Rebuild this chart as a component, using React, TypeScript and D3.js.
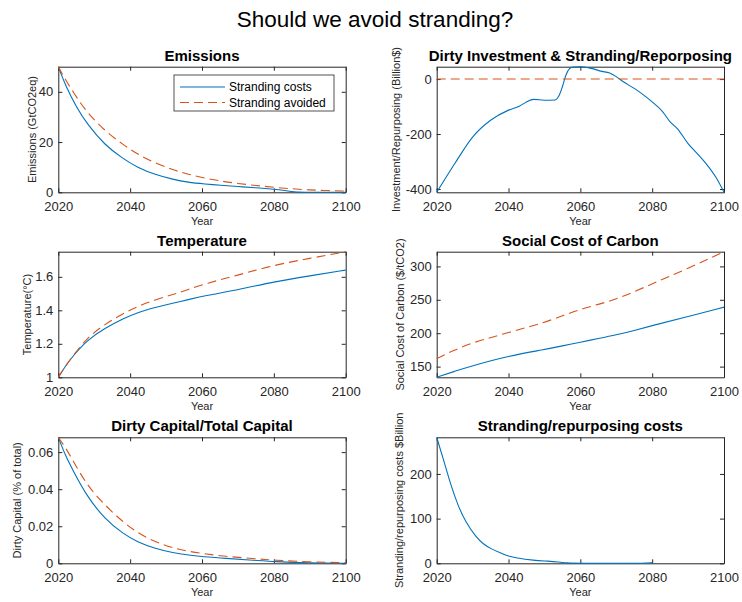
import React, { useEffect, useRef } from "react";
import * as d3 from "d3";

const BLUE = "#0072BD";
const RED = "#D95319";
const AXIS = "#262626";

const yearTicks = [2020, 2040, 2060, 2080, 2100];

// Emissions (GtCO2eq)
const emisCostYears = [2020, 2022, 2025, 2028, 2033, 2038, 2042, 2047, 2052, 2056, 2061, 2065, 2070, 2075, 2080, 2084, 2087, 2090, 2100];
const emisCosts = [50, 42.5, 34, 27.2, 18.7, 13.4, 9.9, 7.0, 5.1, 4.0, 3.3, 2.8, 2.3, 1.8, 1.2, 0.5, 0, 0, 0];
const emisAvoidedYears = [2020, 2022, 2025, 2028, 2033, 2038, 2042, 2047, 2052, 2056, 2061, 2065, 2070, 2075, 2080, 2085, 2090, 2095, 2100];
const emisAvoided = [50, 44.8, 38, 31.8, 24.4, 19.0, 15.2, 11.6, 8.9, 7.2, 5.6, 4.5, 3.5, 2.7, 2.0, 1.4, 0.9, 0.7, 0.5];

// Dirty investment & stranding/repurposing (Billion $)
const invYears = [2020, 2025, 2030, 2035, 2040, 2043, 2045, 2047, 2050, 2053, 2054, 2055, 2056, 2057, 2058, 2060, 2063, 2066, 2068, 2070, 2072, 2075, 2077, 2080, 2083, 2085, 2087, 2090, 2093, 2095, 2098, 2100];
const invCosts = [-412, -308, -211, -150, -113, -99, -83, -74, -77, -76, -62, -28, 15, 38, 44, 45, 39, 28, 23, 9, -10, -34, -52, -83, -120, -156, -180, -235, -278, -308, -363, -412];
const invAvoidedYears = [2020, 2100];
const invAvoided = [0, 0];

// Temperature (°C)
const tempYears = [2020, 2022, 2024, 2028, 2033, 2038, 2042, 2047, 2052, 2056, 2061, 2070, 2080, 2090, 2100];
const tempCosts = [1.0, 1.068, 1.125, 1.222, 1.294, 1.35, 1.387, 1.417, 1.443, 1.463, 1.489, 1.521, 1.571, 1.606, 1.64];
const tempAvoided = [1.0, 1.068, 1.126, 1.236, 1.318, 1.38, 1.423, 1.463, 1.495, 1.523, 1.56, 1.61, 1.67, 1.71, 1.75];

// Social cost of carbon ($/tCO2)
const sccYears = [2020, 2025, 2030, 2040, 2050, 2055, 2060, 2065, 2070, 2075, 2080, 2090, 2100];
const sccCosts = [134, 143, 151.5, 166, 175.5, 181, 186.5, 192, 197.5, 204, 211.5, 225, 239];
const sccAvoided = [162, 175, 186, 201, 216, 226, 236, 243, 251, 262, 274, 297, 322];

// Dirty capital / total capital
const capYears = [2020, 2022, 2024, 2028, 2033, 2038, 2042, 2047, 2052, 2056, 2065, 2075, 2080, 2090, 2100];
const capCosts = [0.068, 0.058, 0.0505, 0.036, 0.0238, 0.016, 0.0115, 0.0079, 0.0057, 0.0044, 0.0028, 0.0016, 0.0009, 0.0002, 0];
const capAvoided = [0.068, 0.0625, 0.0557, 0.042, 0.0313, 0.0223, 0.0165, 0.0115, 0.0083, 0.0064, 0.0039, 0.0025, 0.0016, 0.0008, 0.0003];

// Stranding/repurposing costs ($Billion)
const strandYears = [2020, 2022, 2024, 2026, 2028, 2031, 2033, 2035, 2038, 2040, 2042, 2047, 2051, 2054, 2056, 2060, 2070, 2078, 2080];
const strandCosts = [282, 229, 173, 128, 93, 58, 43, 33, 22, 16, 12, 6.5, 5, 3, 0.7, 0, 0, 0, 1.5];

type Series = { years: number[]; values: number[]; color: string; dashed?: boolean };
type Panel = {
  title: string;
  ylabel: string;
  ylabelX: number;
  col: number;
  row: number;
  domain: [number, number];
  ticks: number[];
  series: Series[];
  curve: d3.CurveFactory;
  legend?: boolean;
};

const cols = [
  [58.3, 345.7],
  [436.7, 724],
];
const rows = [
  [66.7, 192.3],
  [251.7, 377.3],
  [437.3, 563.3],
];

const panels: Panel[] = [
  {
    title: "Emissions",
    ylabel: "Emissions (GtCO2eq)",
    ylabelX: 32,
    col: 0,
    row: 0,
    domain: [0, 50],
    ticks: [0, 20, 40],
    legend: true,
    curve: d3.curveBasis,
    series: [
      { years: emisCostYears, values: emisCosts, color: BLUE },
      { years: emisAvoidedYears, values: emisAvoided, color: RED, dashed: true },
    ],
  },
  {
    title: "Dirty Investment & Stranding/Reporposing",
    ylabel: "Investment/Repurposing (Billion$)",
    ylabelX: 396,
    col: 1,
    row: 0,
    domain: [-412, 45],
    ticks: [-400, -200, 0],
    curve: d3.curveMonotoneX,
    series: [
      { years: invYears, values: invCosts, color: BLUE },
      { years: invAvoidedYears, values: invAvoided, color: RED, dashed: true },
    ],
  },
  {
    title: "Temperature",
    ylabel: "Temperature(°C)",
    ylabelX: 27,
    col: 0,
    row: 1,
    domain: [1, 1.75],
    ticks: [1, 1.2, 1.4, 1.6],
    curve: d3.curveBasis,
    series: [
      { years: tempYears, values: tempCosts, color: BLUE },
      { years: tempYears, values: tempAvoided, color: RED, dashed: true },
    ],
  },
  {
    title: "Social Cost of Carbon",
    ylabel: "Social Cost of Carbon ($/tCO2)",
    ylabelX: 400,
    col: 1,
    row: 1,
    domain: [134, 322],
    ticks: [150, 200, 250, 300],
    curve: d3.curveBasis,
    series: [
      { years: sccYears, values: sccCosts, color: BLUE },
      { years: sccYears, values: sccAvoided, color: RED, dashed: true },
    ],
  },
  {
    title: "Dirty Capital/Total Capital",
    ylabel: "Dirty Capital (% of total)",
    ylabelX: 17,
    col: 0,
    row: 2,
    domain: [0, 0.068],
    ticks: [0, 0.02, 0.04, 0.06],
    curve: d3.curveBasis,
    series: [
      { years: capYears, values: capCosts, color: BLUE },
      { years: capYears, values: capAvoided, color: RED, dashed: true },
    ],
  },
  {
    title: "Stranding/repurposing costs",
    ylabel: "Stranding/repurposing costs $Billion",
    ylabelX: 399,
    col: 1,
    row: 2,
    domain: [0, 282],
    ticks: [0, 100, 200],
    curve: d3.curveBasis,
    series: [{ years: strandYears, values: strandCosts, color: BLUE }],
  },
];

const FONT = "'Liberation Sans', Arial, Helvetica, sans-serif";

const App: React.FC = () => {
  const svgRef = useRef<SVGSVGElement>(null);

  useEffect(() => {
    if (!svgRef.current) return;
    const root = d3.select(svgRef.current);
    root.selectAll("*").remove();

    root.append("rect").attr("width", 742).attr("height", 602).attr("fill", "#fff");

    root
      .append("text")
      .attr("x", 375)
      .attr("y", 27)
      .attr("text-anchor", "middle")
      .attr("font-family", FONT)
      .attr("font-size", 22.5)
      .attr("fill", "#000")
      .text("Should we avoid stranding?");

    panels.forEach((p) => {
      const [x0, x1] = cols[p.col];
      const [y0, y1] = rows[p.row];
      const x = d3.scaleLinear().domain([2020, 2100]).range([x0, x1]);
      const y = d3.scaleLinear().domain(p.domain).range([y1, y0]);
      const g = root.append("g");

      g.append("rect")
        .attr("x", x0)
        .attr("y", y0)
        .attr("width", x1 - x0)
        .attr("height", y1 - y0)
        .attr("fill", "#fff");

      const styleAxis = (sel: d3.Selection<SVGGElement, unknown, null, undefined>) => {
        sel.attr("font-family", FONT).attr("font-size", 13);
        sel.selectAll("path.domain").attr("stroke", AXIS);
        sel.selectAll(".tick line").attr("stroke", AXIS);
        sel.selectAll(".tick text").attr("fill", AXIS);
      };

      g.append("g")
        .attr("transform", `translate(0,${y1})`)
        .call(d3.axisBottom(x).tickValues(yearTicks).tickFormat(d3.format("d")).tickSize(-4).tickSizeOuter(0).tickPadding(9))
        .call(styleAxis);
      g.append("g")
        .attr("transform", `translate(0,${y0})`)
        .call(d3.axisTop(x).tickValues(yearTicks).tickFormat(() => "").tickSize(-4).tickSizeOuter(0))
        .call(styleAxis);
      g.append("g")
        .attr("transform", `translate(${x0},0)`)
        .call(d3.axisLeft(y).tickValues(p.ticks).tickFormat((d) => String(d)).tickSize(-4).tickSizeOuter(0).tickPadding(5))
        .call(styleAxis);
      g.append("g")
        .attr("transform", `translate(${x1},0)`)
        .call(d3.axisRight(y).tickValues(p.ticks).tickFormat(() => "").tickSize(-4).tickSizeOuter(0))
        .call(styleAxis);

      const line = d3
        .line<[number, number]>()
        .x((d) => x(d[0]))
        .y((d) => y(d[1]))
        .curve(p.curve);

      p.series.forEach((s) => {
        g.append("path")
          .datum(s.years.map((yr, i) => [yr, s.values[i]] as [number, number]))
          .attr("d", line)
          .attr("fill", "none")
          .attr("stroke", s.color)
          .attr("stroke-width", 1.1)
          .attr("stroke-dasharray", s.dashed ? "9,5" : null);
      });

      g.append("text")
        .attr("x", (x0 + x1) / 2)
        .attr("y", y0 - 6)
        .attr("text-anchor", "middle")
        .attr("font-family", FONT)
        .attr("font-size", 15)
        .attr("font-weight", "bold")
        .attr("fill", "#000")
        .text(p.title);

      g.append("text")
        .attr("x", (x0 + x1) / 2)
        .attr("y", y1 + 33)
        .attr("text-anchor", "middle")
        .attr("font-family", FONT)
        .attr("font-size", 11)
        .attr("fill", AXIS)
        .text("Year");

      g.append("text")
        .attr("transform", `translate(${p.ylabelX},${(y0 + y1) / 2}) rotate(-90)`)
        .attr("text-anchor", "middle")
        .attr("dy", "0.35em")
        .attr("font-family", FONT)
        .attr("font-size", 11)
        .attr("fill", AXIS)
        .text(p.ylabel);

      if (p.legend) {
        const lg = g.append("g");
        lg.append("rect")
          .attr("x", 174)
          .attr("y", 75)
          .attr("width", 160)
          .attr("height", 36)
          .attr("fill", "#fff")
          .attr("stroke", AXIS)
          .attr("stroke-width", 0.8);
        const items = [
          { label: "Stranding costs", color: BLUE, dashed: false },
          { label: "Stranding avoided", color: RED, dashed: true },
        ];
        items.forEach((it, i) => {
          const ly = 87 + i * 15.5;
          lg.append("line")
            .attr("x1", 180)
            .attr("x2", 225)
            .attr("y1", ly)
            .attr("y2", ly)
            .attr("stroke", it.color)
            .attr("stroke-width", 1.1)
            .attr("stroke-dasharray", it.dashed ? "9,5" : null);
          lg.append("text")
            .attr("x", 229)
            .attr("y", ly)
            .attr("dy", "0.35em")
            .attr("font-family", FONT)
            .attr("font-size", 12)
            .attr("fill", "#000")
            .text(it.label);
        });
      }
    });
  }, []);

  return (
    <svg
      ref={svgRef}
      width={742}
      height={602}
      style={{ position: "absolute", left: 0, top: 0, fontFamily: FONT }}
    />
  );
};

export default App;
